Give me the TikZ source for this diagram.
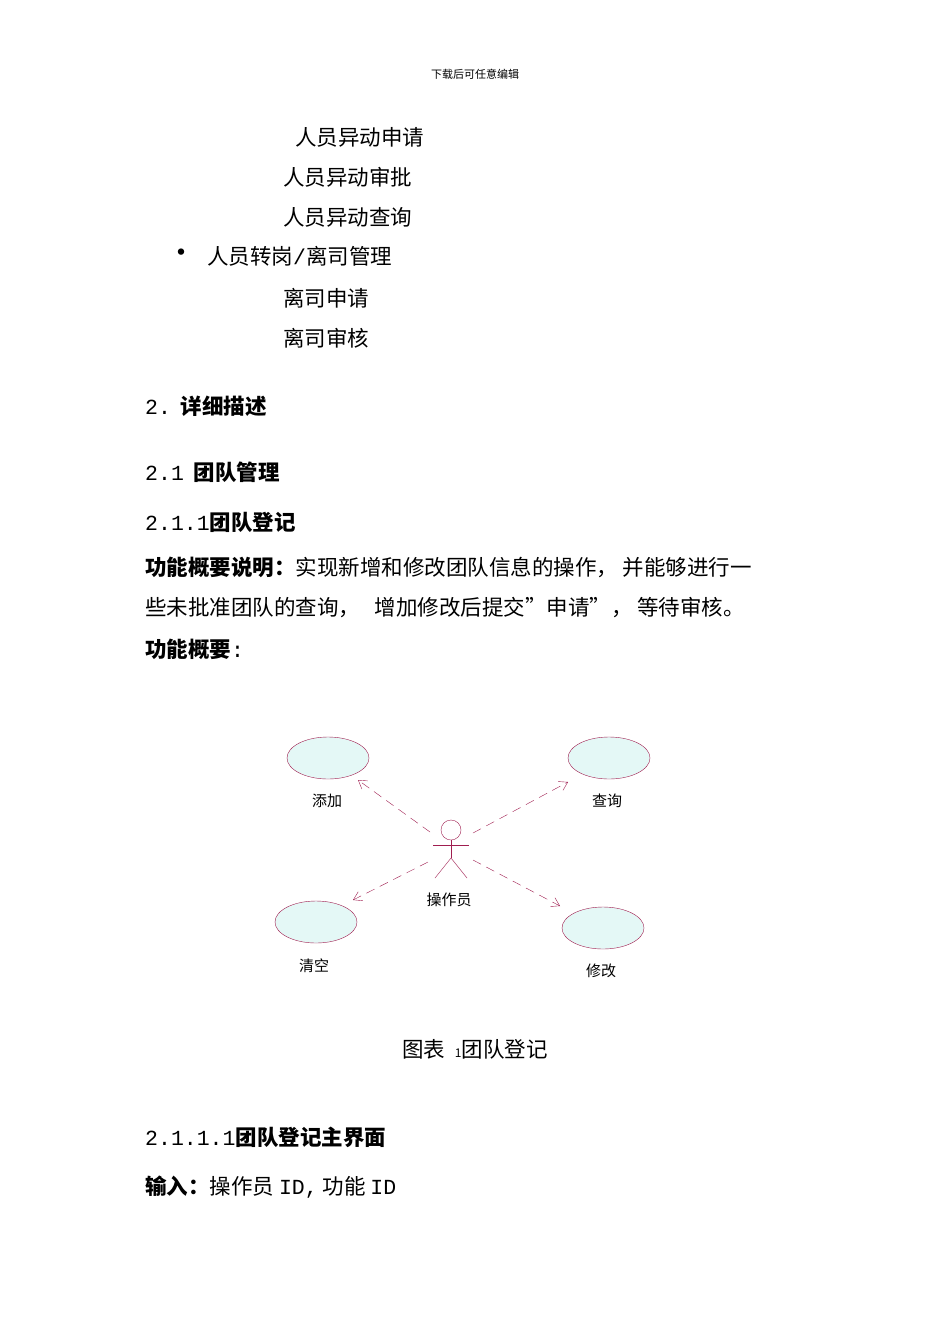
\documentclass[tikz,border=0pt]{standalone}
\usepackage{fontspec}
\setmainfont{Noto Sans CJK SC}
\setmonofont{Liberation Mono}
\usetikzlibrary{arrows.meta,shapes.geometric}
\definecolor{uml}{RGB}{160,30,80}
\definecolor{ufill}{RGB}{228,248,246}
\tikzset{
 txt/.style={anchor=west,inner sep=0pt,font=\fontsize{21.5}{22}\selectfont},
 hd/.style={anchor=west,inner sep=0pt,font=\fontsize{21.5}{22}\selectfont\bfseries},
 uc/.style={draw=uml,fill=ufill,ellipse,minimum width=82pt,minimum height=42pt,inner sep=0pt},
 ulab/.style={font=\fontsize{15}{16}\selectfont,inner sep=0pt},
 dep/.style={draw=uml,dash pattern=on 9pt off 6pt,-{Straight Barb[length=8pt,width=10pt]}}
}
\newcommand{\mn}[1]{{\ttfamily\mdseries #1}}
\begin{document}
\begin{tikzpicture}[x=1pt,y=-1pt]
\useasboundingbox[fill=white] (0,0) rectangle (950,1344);
\node[inner sep=0pt,font=\fontsize{11}{12}\selectfont] (hdr) at (475,74) {下载后可任意编辑};
\node[txt] (l1) at (295,137) {人员异动申请};
\node[txt] (l2) at (283,177) {人员异动审批};
\node[txt] (l3) at (283,217) {人员异动查询};
\node[inner sep=0pt,font=\fontsize{30}{30}\selectfont] (bul) at (181,256) {•};
\node[txt] (l4) at (207,256) {人员转岗\mn{/}离司管理};
\node[txt] (l5) at (283,298) {离司申请};
\node[txt] (l6) at (283,338) {离司审核};
\node[hd] (h1) at (145,406) {\mn{2.}\ \ 详细描述};
\node[hd] (h2) at (145,472) {\mn{2.1}\ \ 团队管理};
\node[hd] (h3) at (145,522) {\mn{2.1.1}团队登记};
\node[txt] (p1) at (145,567) {\textbf{功能概要说明：}实现新增和修改团队信息的操作，\ 并能够进行一};
\node[txt] (p2) at (145,608) {些未批准团队的查询，\ \ \ 增加修改后提交”申请”，\ 等待审核。};
\node[hd] (p3) at (145,649) {功能概要\mn{:}};
% diagram
\node[uc] (add) at (328,758) {};
\node[uc] (qry) at (609,758) {};
\node[uc] (clr) at (316,922) {};
\node[uc] (mod) at (603,928) {};
\node[ulab] (addl) at (327,801) {添加};
\node[ulab] (qryl) at (607,801) {查询};
\node[ulab] (clrl) at (314,966) {清空};
\node[ulab] (modl) at (601,971) {修改};
\node[draw=uml,circle,minimum size=20pt,inner sep=0pt] (head) at (451,830) {};
\draw[uml] (head.south) -- (451,858) coordinate (hip);
\draw[uml] (433,845) -- (469,845);
\draw[uml] (hip) -- (435,878) (hip) -- (467,878);
\node[ulab] (act) at (449,900) {操作员};
\coordinate (s1) at (430,832); \coordinate (s2) at (473,833);
\coordinate (s3) at (428,862); \coordinate (s4) at (473,860);
\coordinate (e1) at (358,780); \coordinate (e2) at (568,782);
\coordinate (e3) at (353,900); \coordinate (e4) at (560,906);
\draw[dep] (s1) -- (e1);
\draw[dep] (s2) -- (e2);
\draw[dep] (s3) -- (e3);
\draw[dep] (s4) -- (e4);
\node[inner sep=0pt,font=\fontsize{21.5}{22}\selectfont] (cap) at (475,1049) {图表\ \ {\fontsize{12}{12}\selectfont 1}团队登记};
\node[hd] (h4) at (145,1137) {\mn{2.1.1.1}团队登记主界面};
\node[txt] (p4) at (145,1187) {\textbf{输入：}操作员 \mn{ID,}\ 功能 \mn{ID}};
\end{tikzpicture}
\end{document}
